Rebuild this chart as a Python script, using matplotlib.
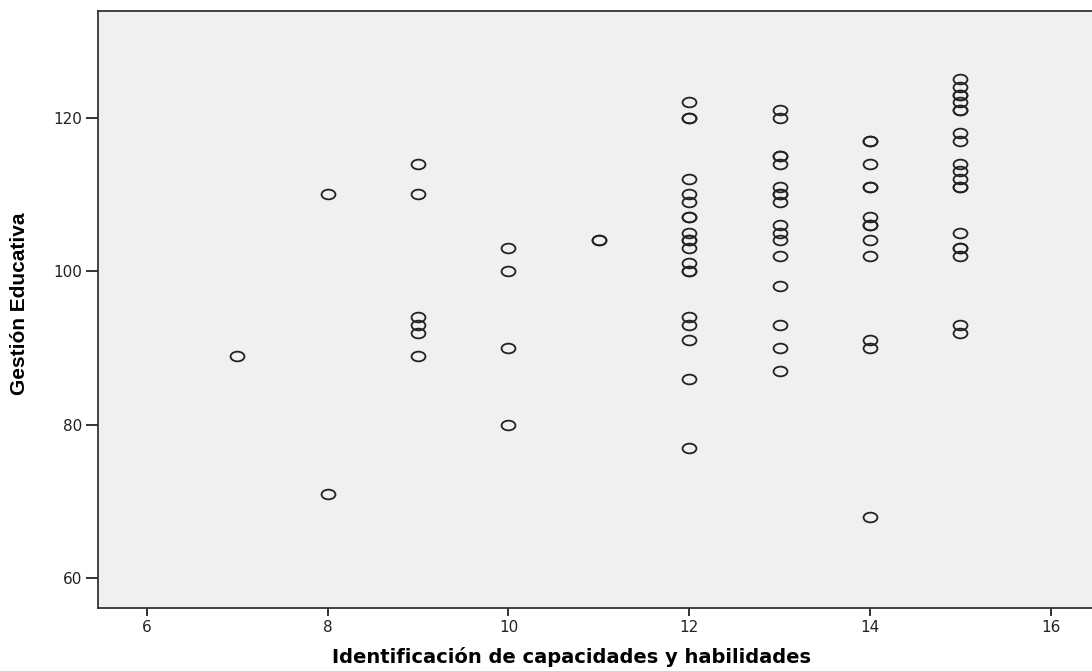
import numpy as np
import matplotlib
matplotlib.use("Agg")
import matplotlib.pyplot as plt
from matplotlib.path import Path

# Gestión Educativa scores grouped by "Identificación de capacidades y habilidades"
x_levels = [7, 8, 9, 10, 11, 12, 13, 14, 15]
y_by_level = [
    [89],
    [110, 71],
    [114, 110, 94, 93, 92, 89],
    [103, 100, 90, 80],
    [104, 104],
    [122, 120, 120, 112, 110, 109, 107, 107, 105, 104, 104, 103, 101, 100, 100,
     94, 93, 91, 86, 77],
    [121, 120, 115, 115, 114, 111, 110, 110, 109, 106, 105, 104, 102, 98, 93, 90, 87],
    [117, 117, 114, 111, 111, 107, 106, 106, 104, 102, 91, 90, 68],
    [125, 124, 123, 123, 122, 121, 121, 118, 117, 114, 113, 112, 111, 111, 105,
     103, 103, 102, 93, 92],
]
x_ticks = [6, 8, 10, 12, 14, 16]
y_ticks = [60, 80, 100, 120]

xs = np.concatenate([[lvl] * len(v) for lvl, v in zip(x_levels, y_by_level)])
ys = np.concatenate(y_by_level)

# slightly flattened circle, the reference image is stretched horizontally
circ = Path.unit_circle()
ellipse = Path(circ.vertices * np.array([1.0, 0.7]), circ.codes)

W, H = 1092, 671
fig = plt.figure(figsize=(W / 100, H / 100), dpi=100)
ax = fig.add_axes([98 / W, 1 - 608 / H, (W - 98) / W, (608 - 11) / H])
ax.set_facecolor("#f0f0f0")

ax.plot(xs, ys, linestyle="none", marker=ellipse, markersize=10,
        markerfacecolor="none", markeredgecolor="#222222", markeredgewidth=1.3)

ax.set_xlim(5.458, 16.457)
ax.set_ylim(56.1, 133.9)
ax.set_xticks(x_ticks)
ax.set_yticks(y_ticks)
ax.tick_params(axis="x", length=6, width=1.4, color="#333333", pad=3,
               labelsize=11, labelcolor="#222222")
ax.tick_params(axis="y", length=8.5, width=1.4, color="#333333", pad=3,
               labelsize=11, labelcolor="#222222")

ax.spines["right"].set_visible(False)
for side in ["left", "bottom", "top"]:
    ax.spines[side].set_linewidth(1.3)
    ax.spines[side].set_color("#333333")

fig.text(20 / W, 1 - 304 / H, "Gestión Educativa", rotation=90,
         ha="center", va="center", fontsize=15, weight="bold",
         family="Liberation Sans", color="black")
fig.text(572 / W, 1 - 657 / H, "Identificación de capacidades y habilidades",
         ha="center", va="center", fontsize=14, weight="bold",
         family="DejaVu Sans", color="black")

fig.savefig("out.png", dpi=100, facecolor="white")
